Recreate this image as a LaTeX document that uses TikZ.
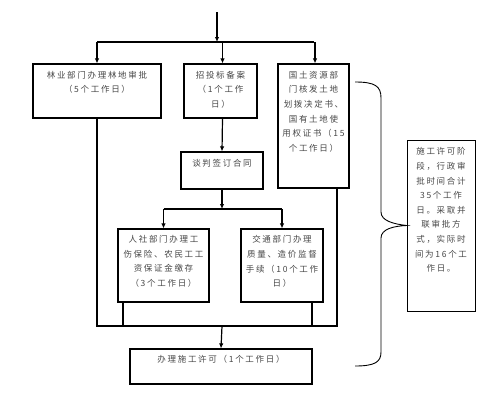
\documentclass[tikz,border=0pt]{standalone}
\usepackage{fontspec}
\setmainfont{Noto Sans CJK SC}[LetterSpace=20]
\usepackage{tikz}
\usetikzlibrary{arrows.meta,positioning}
\newcommand{\arw}{-{Latex[length=5pt,width=4.5pt]}}

\begin{document}
\begin{tikzpicture}[x=1pt,y=-1pt,
  box/.style={draw,line width=1.2pt,inner sep=0pt},
  txt/.style={font=\fontsize{8.5}{14.6}\selectfont,align=center,inner sep=0pt,text=black!72}]
\useasboundingbox (0,0) rectangle (500,400);
%first row of approvals
\node[box,minimum width=128pt,minimum height=54pt] (lin) at (97,91) {};
\node[box,minimum width=73pt,minimum height=54pt] (zhao) at (220.5,91) {};
\node[box,minimum width=71pt,minimum height=124pt] (guo) at (313.5,126) {};
\node[txt,below=7.5pt of lin.north] (lintxt) {林业部门办理林地审批\\（5个工作日）};
\node[txt,below=7.5pt of zhao.north] (zhaotxt) {招投标备案\\（1个工作\\日）};
\node[txt,below=7.5pt of guo.north] (guotxt) {国土资源部\\门核发土地\\划拨决定书、\\国有土地使\\用权证书（15\\个工作日）};
%contract
\node[box,minimum width=82pt,minimum height=37pt] (tan) at (222,170.5) {};
\node[txt,below=7.5pt of tan.north] (tantxt) {谈判签订合同};
%second row
\node[box,minimum width=91pt,minimum height=73pt] (ren) at (163.5,265.5) {};
\node[box,minimum width=82pt,minimum height=73pt] (jiao) at (282,265.5) {};
\node[txt,below=7pt of ren.north] (rentxt) {人社部门办理工\\伤保险、农民工工\\资保证金缴存\\（3个工作日）};
\node[txt,below=7pt of jiao.north] (jiaotxt) {交通部门办理\\质量、造价监督\\手续（10个工作\\日）};
%permit
\node[box,minimum width=182pt,minimum height=35pt] (xu) at (221,366.5) {};
\node[txt,below=7pt of xu.north] (xutxt) {办理施工许可（1个工作日）};
%note on the right
\node[box,line width=1pt,minimum width=68pt,minimum height=171pt] (note) at (441,225.5) {};
\node[txt,below=8pt of note.north] (notetxt) {施工许可阶\\段，行政审\\批时间合计\\35个工作\\日。采取并\\联审批方\\式，实际时\\间为16个工\\作日。};
%connectors
\coordinate (start) at (217,12);
\coordinate (split) at (217,42);
\coordinate (split2) at (222,209);
\coordinate (join) at (222,326);
\draw[line width=1.2pt,\arw] (start) -- (split);
\draw[line width=1.2pt] (lin.north |- split) -- (guo.north |- split);
\draw[line width=1.2pt,\arw] (lin.north |- split) -- (lin.north);
\draw[line width=1.2pt,\arw] ([xshift=2pt]zhao.north |- split) -- ([xshift=2pt]zhao.north);
\draw[line width=1.2pt,\arw] ([xshift=1.5pt]guo.north |- split) -- ([xshift=1.5pt]guo.north);
\draw[line width=1.2pt,\arw] ([xshift=2pt]zhao.south) -- (tan.north);
\draw[line width=1.2pt,\arw] (tan.south) -- (split2);
\draw[line width=1.2pt] (ren.north |- split2) -- (jiao.north |- split2);
\draw[line width=1.2pt,\arw] (ren.north |- split2) -- (ren.north);
\draw[line width=1.2pt,\arw] (jiao.north |- split2) -- (jiao.north);
\draw[line width=1.2pt] (lin.south) -- (lin.south |- join) -- ([xshift=23.5pt]guo.south |- join) -- ([xshift=23.5pt]guo.south);
\draw[line width=1.2pt] ([xshift=-40.5pt]ren.south) -- ([xshift=-40.5pt]ren.south |- join);
\draw[line width=1.2pt] ([xshift=30pt]jiao.south) -- ([xshift=30pt]jiao.south |- join);
\draw[line width=1.2pt,\arw] (join) -- (xu.north);
%brace
\draw[line width=.9pt] (355,82) .. controls (375,82) and (381,86) .. (381,98) -- (381,212)
  .. controls (381,221) and (394,224) .. (note.west)
  .. controls (394,226) and (381,229) .. (381,238) -- (381,352)
  .. controls (381,362) and (375,366) .. (355,366);
\end{tikzpicture}
\end{document}
